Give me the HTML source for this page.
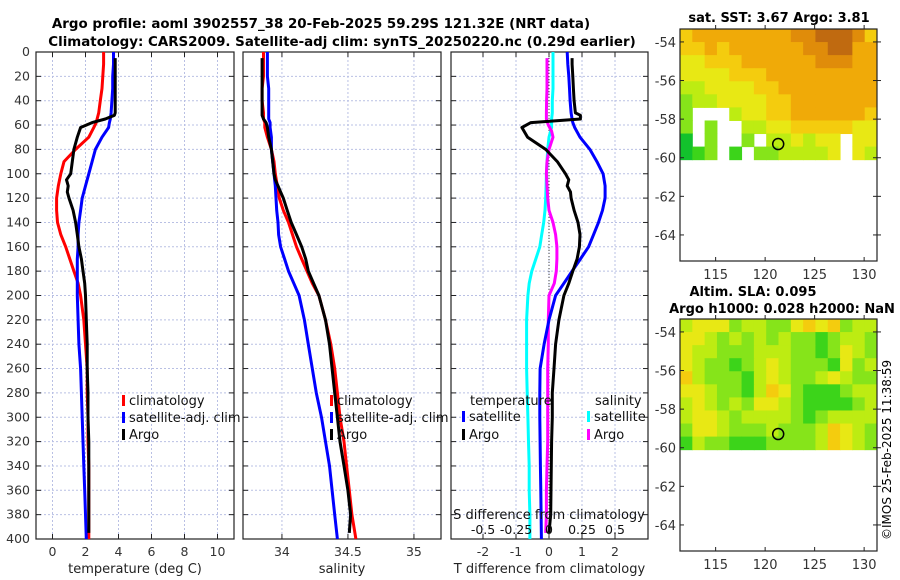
<!DOCTYPE html>
<html><head><meta charset="utf-8"><style>
html,body{margin:0;padding:0;background:#fff;}
svg{display:block;font-family:"DejaVu Sans","Liberation Sans",sans-serif;}
</style></head><body>
<svg id="fig" width="900" height="580" viewBox="0 0 900 580" xmlns="http://www.w3.org/2000/svg">
<text x="321" y="28" font-size="13.4" font-weight="bold" text-anchor="middle">Argo profile: aoml 3902557_38 20-Feb-2025 59.29S 121.32E (NRT data)</text>
<text x="342" y="46" font-size="13.4" font-weight="bold" text-anchor="middle">Climatology: CARS2009. Satellite-adj clim: synTS_20250220.nc (0.29d earlier)</text>
<text x="779" y="22" font-size="13" font-weight="bold" text-anchor="middle">sat. SST: 3.67 Argo: 3.81</text>
<text x="753" y="296" font-size="13" font-weight="bold" text-anchor="middle">Altim. SLA: 0.095</text>
<text x="782" y="313" font-size="13" font-weight="bold" text-anchor="middle">Argo h1000: 0.028 h2000: NaN</text>
<text transform="translate(891,540) rotate(-90)" font-size="12">©IMOS 25-Feb-2025 11:38:59</text>
</svg>
<script>
const depths=[0,5,10,20,30,40,50,55,58,62,70,80,90,100,110,120,130,140,150,160,170,180,190,200,220,240,260,280,300,320,340,360,380,400];
const tClim=[3.1,3.1,3.1,3.05,3.0,2.9,2.8,2.7,2.65,2.5,2.2,1.4,0.7,0.5,0.35,0.25,0.25,0.3,0.5,0.8,1.05,1.3,1.55,1.7,1.9,2.0,2.1,2.1,2.15,2.15,2.2,2.2,2.2,2.2];
const tSat=[3.7,3.7,3.7,3.65,3.65,3.6,3.55,3.5,3.45,3.4,3.0,2.6,2.4,2.2,2.0,1.8,1.7,1.6,1.55,1.55,1.5,1.5,1.5,1.5,1.55,1.6,1.7,1.75,1.8,1.85,1.9,1.95,2.0,2.05];
const tArgoD=[5,10,20,30,40,50,52,55,58,62,70,80,90,100,105,110,115,120,130,140,150,160,170,180,190,200,220,240,260,280,300,320,340,360,380,395];
const tArgo=[3.8,3.8,3.8,3.8,3.8,3.8,3.75,3.2,2.4,1.7,1.5,1.3,1.2,1.1,0.85,0.95,0.9,1.0,1.25,1.4,1.5,1.6,1.75,1.85,1.95,2.0,2.05,2.1,2.1,2.15,2.15,2.2,2.2,2.2,2.2,2.2];
const sClim=[33.86,33.86,33.86,33.86,33.85,33.85,33.86,33.86,33.87,33.87,33.89,33.92,33.94,33.95,33.965,33.98,34.01,34.05,34.08,34.11,34.15,34.19,34.23,34.28,34.33,34.37,34.40,34.42,34.44,34.47,34.49,34.51,34.53,34.56];
const sSat=[33.89,33.89,33.89,33.89,33.9,33.9,33.9,33.9,33.91,33.91,33.92,33.92,33.93,33.94,33.95,33.955,33.96,33.97,33.975,33.99,34.02,34.05,34.09,34.13,34.17,34.2,34.23,34.26,34.3,34.33,34.36,34.38,34.4,34.42];
const sArgo=[33.85,33.85,33.85,33.85,33.85,33.85,33.85,33.86,33.88,33.89,33.9,33.92,33.93,33.94,33.95,33.97,33.99,34.01,34.04,34.07,34.11,34.15,34.18,34.2,34.24,34.28,34.33,34.36,34.38,34.40,34.42,34.44,34.47,34.50,34.52,34.51];
const dTSat=[0.55,0.56,0.57,0.6,0.62,0.64,0.67,0.7,0.72,0.78,0.94,1.24,1.45,1.64,1.7,1.7,1.62,1.5,1.35,1.2,0.95,0.7,0.45,0.2,0.0,-0.15,-0.27,-0.28,-0.28,-0.27,-0.26,-0.25,-0.24,-0.23];
const dTArgo=[0.7,0.7,0.72,0.74,0.76,0.8,0.95,0.95,-0.55,-0.82,-0.65,-0.1,0.25,0.5,0.6,0.55,0.65,0.67,0.76,0.88,0.94,0.92,0.85,0.72,0.6,0.45,0.3,0.2,0.15,0.1,0.1,0.08,0.07,0.06,0.05,0.0];
const dSSat=[0.03,0.03,0.03,0.03,0.03,0.025,0.025,0.02,0.02,0.02,0.0,-0.01,-0.015,-0.02,-0.022,-0.025,-0.03,-0.04,-0.055,-0.07,-0.1,-0.13,-0.15,-0.16,-0.17,-0.17,-0.17,-0.165,-0.16,-0.155,-0.15,-0.15,-0.145,-0.145];
const dSArgoD=[5,10,20,30,40,50,55,60,65,70,80,90,100,110,120,130,140,150,160,170,180,190,200,220,240,260,280,300,320,340,360,380,395];
const dSArgo=[-0.015,-0.015,-0.015,-0.015,-0.018,-0.02,-0.02,-0.005,0.02,0.03,0.0,-0.015,-0.02,-0.015,-0.01,0.0,0.03,0.05,0.06,0.06,0.055,0.04,0.0,-0.005,-0.005,-0.01,-0.01,-0.01,-0.01,-0.015,-0.02,-0.02,-0.025];
const depthTicks=[0,20,40,60,80,100,120,140,160,180,200,220,240,260,280,300,320,340,360,380,400];
const tTicks=[0,2,4,6,8,10];
const sTicks=[34,34.5,35];
const sTickLabels=["34","34.5","35"];
const dTTicks=[-2,-1,0,1,2];
const dSTicks=[-0.5,-0.25,0,0.25,0.5];
const dSTickLabels=["-0.5","-0.25","0","0.25","0.5"];
const latTicks=[-54,-56,-58,-60,-62,-64];
const lonTicks=[115,120,125,130];
// map grids: 16 cols x 10 rows, digits 0-9 = colour level, '.' = no data
const sstRows=["6777777778899986","6676777777889977","5566677777788877","5555666777777777","4455556677777777","3445555667777777","3...455667777776","3.3..44556666655","1.3..3.445455.55","123.2.3344445.54"];
const slaRows=["4555344335656344","5543434343323443","5443334443323543","5433234543332534","6433324543345433","5543324653222344","4543435543222234","4554344443234444","3554333433346543","2433222333346543"];
const argoLon=121.32, argoLat=-59.29;

const NS="http://www.w3.org/2000/svg";
const svg=document.getElementById('fig');
function mk(tag,attrs,parent){const e=document.createElementNS(NS,tag);for(const k in attrs)e.setAttribute(k,attrs[k]);(parent||svg).appendChild(e);return e;}
const Y0=52,Y1=539;
function yD(d){return Y0+(Y1-Y0)*d/400;}
const gridCol="#b9c0e4";
function panel(name,x0,x1,xmin,xmax,xTicks,xLabels,xlabel){
  const g=mk('g',{});
  
  
  const sx=v=>x0+(x1-x0)*(v-xmin)/(xmax-xmin);
  depthTicks.forEach(d=>{if(d>0&&d<400){const l=mk('line',{x1:x0,x2:x1,y1:yD(d),y2:yD(d),stroke:gridCol,'stroke-width':1,'stroke-dasharray':'2,2'},g);}
    mk('line',{x1:x0,x2:x0+5,y1:yD(d),y2:yD(d),stroke:'#222'},g);mk('line',{x1:x1-5,x2:x1,y1:yD(d),y2:yD(d),stroke:'#222'},g);});
  xTicks.forEach((v,i)=>{const X=sx(v);
    const l=mk('line',{x1:X,x2:X,y1:Y0,y2:Y1,stroke:gridCol,'stroke-width':1,'stroke-dasharray':'2,2'},g);
    mk('line',{x1:X,x2:X,y1:Y1-5,y2:Y1,stroke:'#222'},g);mk('line',{x1:X,x2:X,y1:Y0,y2:Y0+5,stroke:'#222'},g);
    const t=mk('text',{x:X,y:Y1+17,'font-size':12.5,'text-anchor':'middle',fill:'#333'},g);t.textContent=xLabels[i];
    });
  const r=mk('rect',{x:x0,y:Y0,width:x1-x0,height:Y1-Y0,fill:'none',stroke:'#222','stroke-width':1.2},g);
  
  if(xlabel){const t=mk('text',{x:(x0+x1)/2,y:Y1+34,'font-size':13,'text-anchor':'middle',fill:'#222'},g);t.textContent=xlabel;
    }
  return {g,sx};
}
function line(p,name,ds,vs,sx,color){
  const pts=ds.map((d,i)=>sx(vs[i]).toFixed(1)+','+yD(d).toFixed(1)).join(' ');
  const l=mk('polyline',{points:pts,fill:'none',stroke:color,'stroke-width':3,'stroke-linejoin':'round'},p.g);
  
  
}
function legend(g,x,y,color,label,name){
  mk('rect',{x:x,y:y-10,width:3,height:11,fill:color},g);
  const t=mk('text',{x:x+7,y:y,'font-size':13,fill:'#111'},g);t.textContent=label;
  
  
}
depthTicks.forEach(d=>{const t=mk('text',{x:30,y:yD(d)+4,'font-size':12.5,'text-anchor':'end',fill:'#333'});t.textContent=d;
  });
const p1=panel('temperature-panel',36,234,-1,11,tTicks,tTicks.map(String),'temperature (deg C)');
line(p1,'temp-climatology-line',depths,tClim,p1.sx,'#ff0000');
line(p1,'temp-satellite-line',depths,tSat,p1.sx,'#0000ff');
line(p1,'temp-argo-line',tArgoD,tArgo,p1.sx,'#000');
legend(p1.g,122,405,'#ff0000','climatology','legend-climatology');
legend(p1.g,122,422,'#0000ff','satellite-adj. clim','legend-satellite');
legend(p1.g,122,439,'#000','Argo','legend-argo');
const p2=panel('salinity-panel',243,441,33.705,35.205,sTicks,sTickLabels,'salinity');
line(p2,'sal-climatology-line',depths,sClim,p2.sx,'#ff0000');
line(p2,'sal-satellite-line',depths,sSat,p2.sx,'#0000ff');
line(p2,'sal-argo-line',tArgoD,sArgo,p2.sx,'#000');
legend(p2.g,330,405,'#ff0000','climatology','legend-climatology');
legend(p2.g,330,422,'#0000ff','satellite-adj. clim','legend-satellite');
legend(p2.g,330,439,'#000','Argo','legend-argo');
const p3=panel('difference-panel',451,648,-2.97,3,dTTicks,dTTicks.map(String),'T difference from climatology');
const sxS=v=>p3.sx(v*4);
const zl=mk('line',{x1:p3.sx(0),x2:p3.sx(0),y1:Y0,y2:Y1,stroke:'#444','stroke-dasharray':'1,2'},p3.g);

line(p3,'sdiff-satellite-line',depths,dSSat,sxS,'#00ffff');
line(p3,'sdiff-argo-line',dSArgoD,dSArgo,sxS,'#ff00ff');
line(p3,'tdiff-satellite-line',depths,dTSat,p3.sx,'#0000ff');
line(p3,'tdiff-argo-line',tArgoD,dTArgo,p3.sx,'#000');
const tl=mk('text',{x:470,y:405,'font-size':13,fill:'#111'},p3.g);tl.textContent='temperature';

legend(p3.g,462,421,'#0000ff','satellite','legend-t-satellite');
legend(p3.g,462,439,'#000','Argo','legend-t-argo');
const sl=mk('text',{x:595,y:405,'font-size':13,fill:'#111'},p3.g);sl.textContent='salinity';

legend(p3.g,587,421,'#00ffff','satellite','legend-s-satellite');
legend(p3.g,587,439,'#ff00ff','Argo','legend-s-argo');
const st=mk('text',{x:549,y:519,'font-size':13,'text-anchor':'middle',fill:'#111'},p3.g);st.textContent='S difference from climatology';

dSTicks.forEach((v,i)=>{const t=mk('text',{x:sxS(v),y:534,'font-size':12.5,'text-anchor':'middle',fill:'#111'},p3.g);t.textContent=dSTickLabels[i];
  });
const cmap=['#1a9a68','#12c22c','#3cd41a','#86e41a','#bdec12','#e8e814','#f4cc0e','#f0aa08','#e08c0a','#c06a10'];
function map(name,top,rows,lat0,lat1,lon0,lon1){
  const g=mk('g',{});
  
  
  const x0=680,x1=877,y0=top,y1=top+232;
  const sx=v=>x0+(x1-x0)*(v-lon0)/(lon1-lon0);
  const sy=v=>y0+(y1-y0)*(lat0-v)/(lat0-lat1);
  const nr=rows.length,nc=rows[0].length,dataBottom=sy(-60.1);
  const cw=(x1-x0)/nc,ch=(dataBottom-y0)/nr;
  rows.forEach((row,r)=>{for(let c=0;c<nc;c++){const ch_=row[c];if(ch_==='.')continue;
    const cell=mk('rect',{x:x0+c*cw,y:y0+r*ch,width:cw+0.5,height:ch+0.5,fill:cmap[+ch_]},g);
    
    }});
  const fr=mk('rect',{x:x0,y:y0,width:x1-x0,height:y1-y0,fill:'none',stroke:'#222','stroke-width':1.2},g);
  
  latTicks.forEach(v=>{const Y=sy(v);mk('line',{x1:x0,x2:x0+4,y1:Y,y2:Y,stroke:'#222'},g);mk('line',{x1:x1-4,x2:x1+4,y1:Y,y2:Y,stroke:'#222'},g);
    const t=mk('text',{x:x0-4,y:Y+5,'font-size':13,'text-anchor':'end',fill:'#333'},g);t.textContent=v;
    });
  lonTicks.forEach(v=>{const X=sx(v);mk('line',{x1:X,x2:X,y1:y1-4,y2:y1,stroke:'#222'},g);mk('line',{x1:X,x2:X,y1:y0-4,y2:y0,stroke:'#222'},g);
    const t=mk('text',{x:X,y:y1+18,'font-size':13,'text-anchor':'middle',fill:'#333'},g);t.textContent=v;
    });
  const m=mk('circle',{cx:sx(argoLon),cy:sy(argoLat),r:5.5,fill:'none',stroke:'#000','stroke-width':1.5},g);
  
  
}
map('sst-map',29,sstRows,-53.33,-65.35,111.4,131.3);
map('sla-map',319,slaRows,-53.33,-65.35,111.4,131.3);
</script>
</body></html>
